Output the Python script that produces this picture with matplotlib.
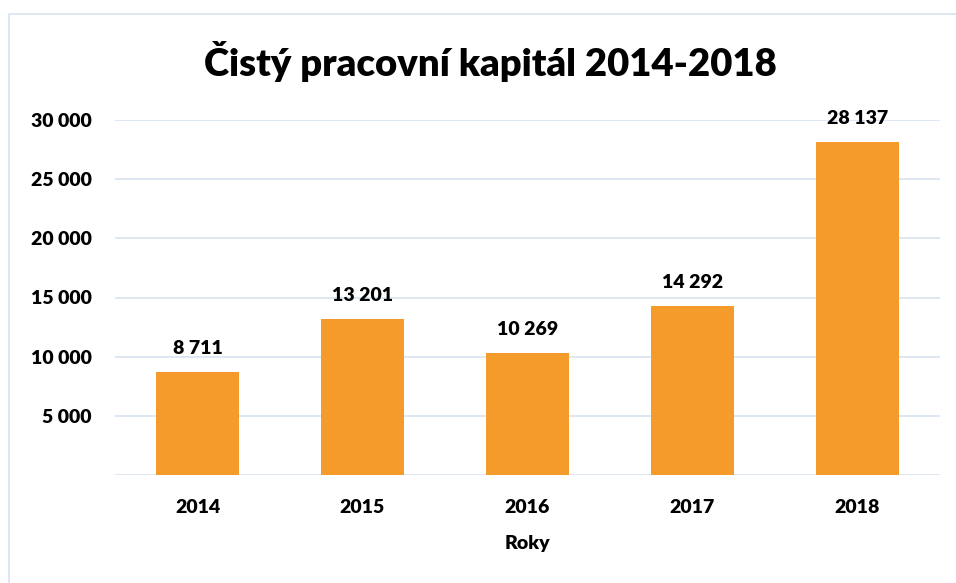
import matplotlib.pyplot as plt
import matplotlib.patches as mpatches
from matplotlib.ticker import FuncFormatter

# data
roky = ['2014', '2015', '2016', '2017', '2018']
hodnoty = [8711, 13201, 10269, 14292, 28137]

plt.rcParams['font.family'] = ['Lato', 'DejaVu Sans']

bar_color = '#F59B2B'
grid_color = '#D9E3F1'
W = 'heavy'

fig = plt.figure(figsize=(9.56, 5.83), dpi=100)
ax = fig.add_axes([115 / 956, 1 - 475 / 583, 825 / 956, 355 / 583])

x = range(len(roky))
bars = ax.bar(x, hodnoty, width=0.5, color=bar_color, zorder=3)

ax.set_xlim(-0.5, len(roky) - 0.5)
ax.set_ylim(0, 30000)
ax.set_yticks(range(0, 30001, 5000))
ax.yaxis.set_major_formatter(FuncFormatter(
    lambda v, p: '' if v == 0 else f'{int(v):,}'.replace(',', ' ')))
ax.set_xticks(list(x))
ax.set_xticklabels(roky)

ax.grid(axis='y', color=grid_color, linewidth=1.2, zorder=0)
for s in ax.spines.values():
    s.set_visible(False)
ax.tick_params(axis='both', length=0, labelsize=14)
ax.tick_params(axis='y', pad=17)
ax.tick_params(axis='x', pad=17)
for lab in ax.get_xticklabels() + ax.get_yticklabels():
    lab.set_fontweight(W)

# popisky hodnot
for b, v in zip(bars, hodnoty):
    ax.annotate(f'{v:,}'.replace(',', ' '), (b.get_x() + b.get_width() / 2, v),
                xytext=(0, 11), textcoords='offset points',
                ha='center', va='bottom', fontsize=14, fontweight=W)

ax.set_xlabel('Roky', fontsize=14, fontweight=W, labelpad=14)

fig.text(490 / 956, 1 - 62 / 583, 'Čistý pracovní kapitál 2014-2018',
         ha='center', va='center', fontsize=27.5, fontweight=W)

# ramecek grafu
fig.patches.append(mpatches.Rectangle((9 / 956, -0.1), 2, 1 - 14 / 583 + 0.1,
                                      transform=fig.transFigure, fill=False,
                                      edgecolor=grid_color, linewidth=1.2))

fig.savefig('out.png', dpi=100)
